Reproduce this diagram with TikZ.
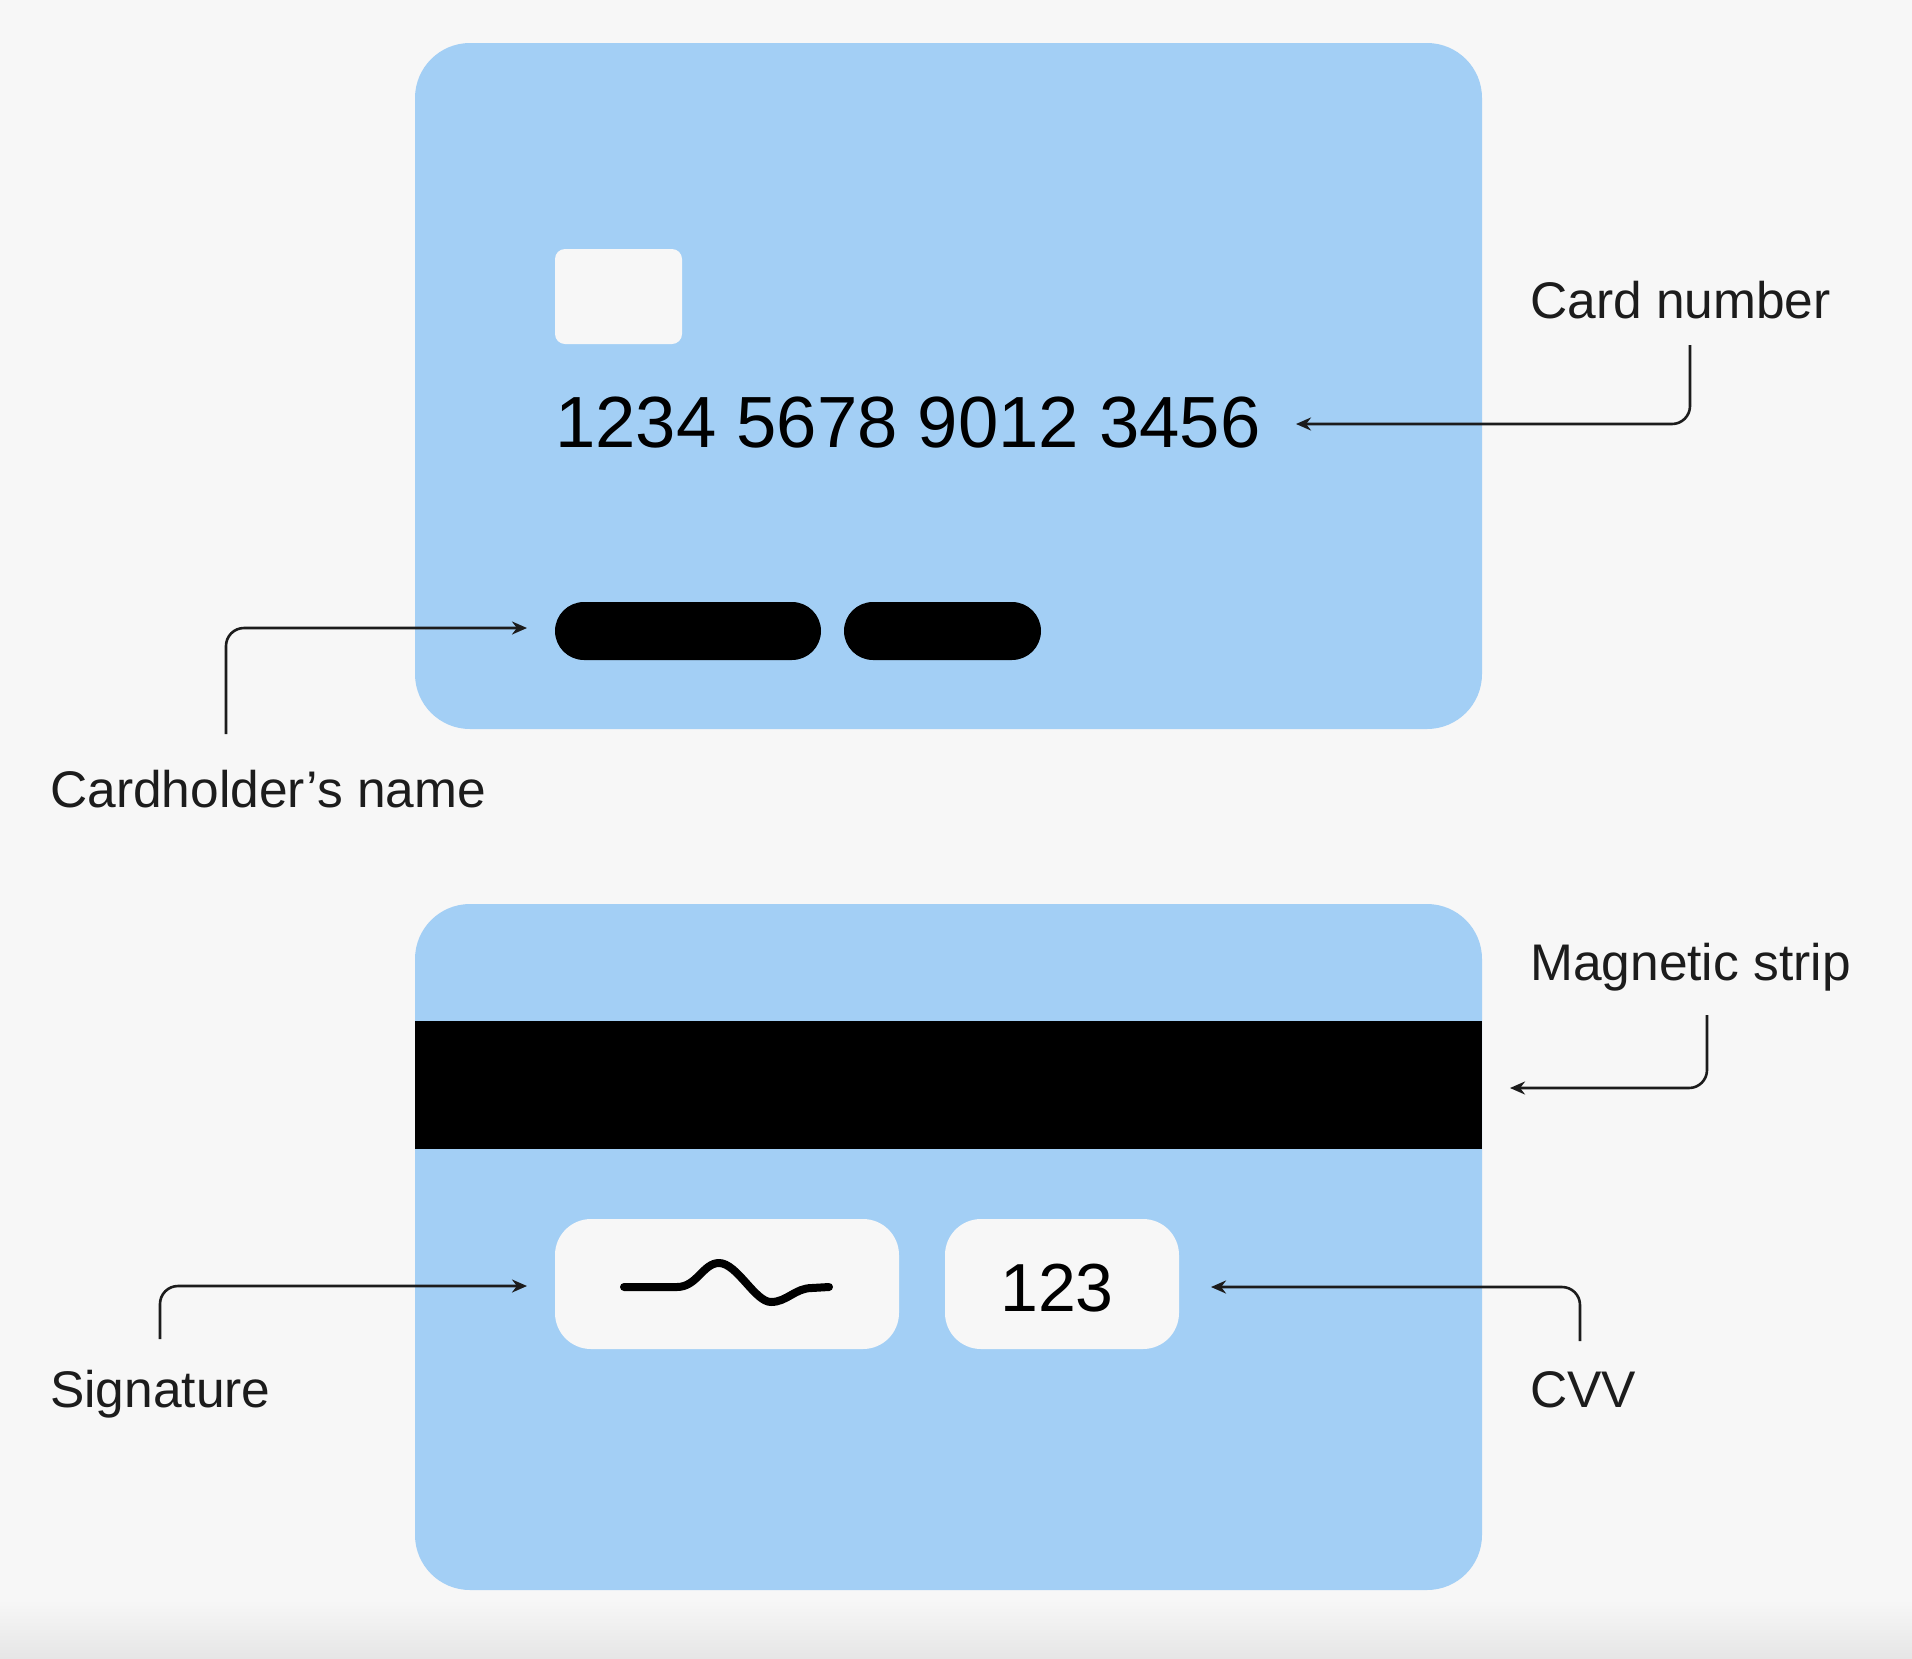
\documentclass[tikz,border=0pt]{standalone}
\usepackage{fontspec}
\setmainfont{Liberation Sans}
\usetikzlibrary{arrows.meta}
\definecolor{bg}{HTML}{F7F7F7}
\definecolor{bgdark}{HTML}{E6E6E6}
\definecolor{cardblue}{HTML}{A3CFF5}
\definecolor{ink}{HTML}{1C1C1C}
\begin{document}
\begin{tikzpicture}[x=1pt,y=-1pt,
  card/.style={fill=cardblue, draw=none, rounded corners=55pt, inner sep=0},
  blackbar/.style={fill=black, draw=none, rounded corners=29pt, inner sep=0, minimum height=58pt},
  whitebox/.style={fill=bg, draw=none, inner sep=0},
  conn/.style={draw=ink, line width=2.6pt, rounded corners=18pt, -{Stealth[length=15pt,width=13pt]}},
  lbl/.style={anchor=base west, inner sep=0, text=ink, font=\fontsize{51.5}{60}\selectfont},
]
\useasboundingbox (0,0) rectangle (1912,1658);
\fill[bg] (0,0) rectangle (1912,1658);
\shade[top color=bg, bottom color=bgdark] (0,1600) rectangle (1912,1658);

% front of card
\node[card, minimum width=1067pt, minimum height=686pt] (front) at (948.5,386) {};
\node[whitebox, rounded corners=10pt, minimum width=127pt, minimum height=95pt] (chip) at (618.5,296.5) {};
\node[anchor=base west, inner sep=0, text=black, font=\fontsize{72.5}{80}\selectfont] (number) at (555,447) {1234 5678 9012 3456};
\node[blackbar, minimum width=266pt] (name1) at (688,631) {};
\node[blackbar, minimum width=197pt] (name2) at (942.5,631) {};

% back of card
\node[card, minimum width=1067pt, minimum height=686pt] (back) at (948.5,1247) {};
\node[fill=black, draw=none, inner sep=0, minimum width=1067pt, minimum height=128pt] (strip) at (948.5,1085) {};
\node[whitebox, rounded corners=36pt, minimum width=344pt, minimum height=130pt] (sigbox) at (727,1284) {};
\node[whitebox, rounded corners=36pt, minimum width=234pt, minimum height=130pt] (cvvbox) at (1062,1284) {};
\node[inner sep=0, text=black, font=\fontsize{68}{74}\selectfont] (cvvnum) at (1057,1288) {123};
\draw[line width=8pt, line cap=round, line join=round]
  (624,1287) -- (677,1287)
  .. controls (697,1287) and (703,1263) .. (719,1263)
  .. controls (737,1263) and (755,1302) .. (771,1302)
  .. controls (787,1302) and (795,1288) .. (812,1288) -- (829,1287);

% labels
\node[lbl] (lcard) at (1530,318) {Card number};
\node[lbl] (lname) at (50,807) {Cardholder’s name};
\node[lbl] (lmag) at (1530,980) {Magnetic strip};
\node[lbl] (lsig) at (50,1407) {Signature};
\node[lbl] (lcvv) at (1530,1407) {CVV};

% connector end points
\coordinate (c1s) at (1690,345);  \coordinate (c1e) at (1296,424);
\coordinate (c2s) at (226,734);   \coordinate (c2e) at (527,628);
\coordinate (c3s) at (1707,1015); \coordinate (c3e) at (1510,1088);
\coordinate (c4s) at (160,1339);  \coordinate (c4e) at (527,1286);
\coordinate (c5s) at (1580,1341); \coordinate (c5e) at (1211,1287);

\draw[conn] (c1s) |- (c1e);
\draw[conn] (c2s) |- (c2e);
\draw[conn] (c3s) |- (c3e);
\draw[conn] (c4s) |- (c4e);
\draw[conn] (c5s) |- (c5e);
\end{tikzpicture}
\end{document}
